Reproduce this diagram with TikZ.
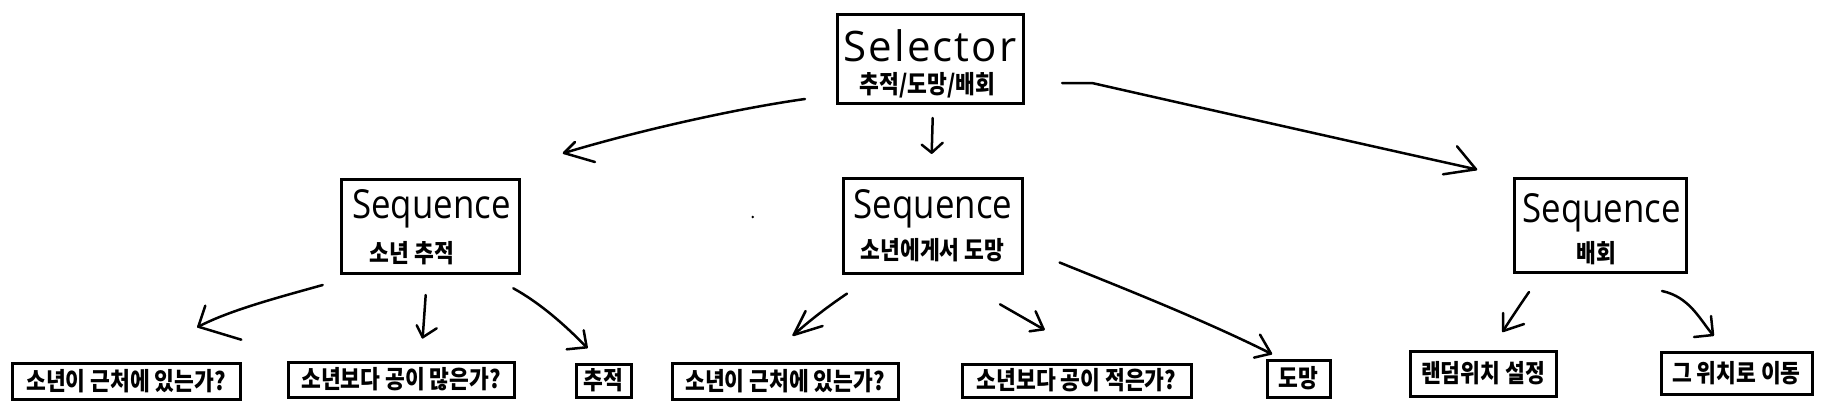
\documentclass[tikz,border=0pt]{standalone}
\usepackage{fontspec}
\newfontfamily\kr{Noto Sans CJK KR}[FakeStretch=0.86]
\newfontfamily\handQ{Open Sans}[FakeStretch=0.87]
\newfontfamily\handS{Open Sans}[LetterSpace=5]
\begin{document}
\begin{tikzpicture}[x=1pt,y=-1pt,
  box/.style={draw=black,line width=3pt,inner sep=0pt,minimum width=#1},
  ktext/.style={font=\kr\bfseries\fontsize{25}{27}\selectfont,inner sep=0pt},
  seqt/.style={font=\handQ\fontsize{40}{44}\selectfont,inner sep=0pt,anchor=base},
  selt/.style={font=\handS\fontsize{42}{46}\selectfont,inner sep=0pt,anchor=base},
  conn/.style={line width=2.5pt,line cap=round,line join=round}]
\fill[white] (0,0) rectangle (1830,408);
\useasboundingbox (0,0) rectangle (1830,408);

% top selector
\node[box=186pt,minimum height=89pt] (sel) at (930,58.5) {};
\node[selt] (selT) at (930,61) {Selector};
\node[ktext] (selK) at (927.5,85) {추적/도망/배회};

% sequences
\node[box=178pt,minimum height=94pt] (s1) at (430,226) {};
\node[seqt] (s1T) at (431.5,218) {Sequence};
\node[ktext] (s1K) at (412,253) {소년 추적};

\node[box=179pt,minimum height=95pt] (s2) at (932.5,225.5) {};
\node[seqt] (s2T) at (933,218) {Sequence};
\node[ktext] (s2K) at (932.5,250) {소년에게서 도망};

\node[box=172pt,minimum height=94pt] (s3) at (1600,225) {};
\node[seqt] (s3T) at (1601.5,222) {Sequence};
\node[ktext] (s3K) at (1596,253) {배회};

% leaves
\node[box=228pt,minimum height=36pt,ktext] (l1) at (126,381) {소년이 근처에 있는가?};
\node[box=226pt,minimum height=35pt,ktext] (l2) at (401,379.5) {소년보다 공이 많은가?};
\node[box=55pt,minimum height=33pt,ktext] (l3) at (603.5,380.5) {추적};
\node[box=226pt,minimum height=36pt,ktext] (l4) at (785,381) {소년이 근처에 있는가?};
\node[box=229pt,minimum height=33pt,ktext] (l5) at (1076.5,380.5) {소년보다 공이 적은가?};
\node[box=63pt,minimum height=37pt,ktext] (l6) at (1298.5,378.5) {도망};
\node[box=146pt,minimum height=45pt,ktext] (l7) at (1483,373.5) {랜덤위치 설정};
\node[box=151pt,minimum height=42pt,ktext] (l8) at (1736.5,373) {그 위치로 이동};

% stray dot
\fill (752.7,217) circle (1.3pt);

% connector end points
\coordinate (aS) at (805,99);     \coordinate (aT) at (564,153);
\coordinate (bS) at (932.7,118);  \coordinate (bT) at (931.7,152.7);
\coordinate (cS) at (1062,83);    \coordinate (cT) at (1476,169.3);
\coordinate (d1S) at (322.7,285); \coordinate (d1T) at (198.3,326.7);
\coordinate (d2S) at (425.7,295); \coordinate (d2T) at (422.7,337.3);
\coordinate (d3S) at (513.3,288.3); \coordinate (d3T) at (586.7,347.3);
\coordinate (e1S) at (847,293.6); \coordinate (e1T) at (793.6,335);
\coordinate (e2S) at (1000,304.3); \coordinate (e2T) at (1043.6,329.3);
\coordinate (e3S) at (1059.6,262.5); \coordinate (e3T) at (1271,353.6);
\coordinate (f1S) at (1529,292);  \coordinate (f1T) at (1503,331);
\coordinate (f2S) at (1662,291);  \coordinate (f2T) at (1713,335);

% selector arrows
\draw[conn] (aS) .. controls (740,108) and (640,130) .. (aT);
\draw[conn] (aT) ++(11,-11) -- (aT) -- ++(31,9);
\draw[conn] (bS) -- (bT);
\draw[conn] (bT) ++(-10,-8) -- (bT) -- ++(11,-10);
\draw[conn] (cS) -- (1092,83) .. controls (1220,112) and (1380,148) .. (cT);
\draw[conn] (cT) ++(-19,-23) -- (cT) -- ++(-33,5);

% sequence 1 arrows
\draw[conn] (d1S) .. controls (280,297) and (230,310) .. (d1T);
\draw[conn] (d1T) ++(7,-21) -- (d1T) -- ++(43,13);
\draw[conn] (d2S) -- (d2T);
\draw[conn] (d2T) ++(-6,-12) -- (d2T) -- ++(14,-9);
\draw[conn] (d3S) .. controls (540,303) and (565,325) .. (d3T);
\draw[conn] (d3T) ++(-3,-17) -- (d3T) -- ++(-20,2);

% sequence 2 arrows
\draw[conn] (e1S) .. controls (830,305) and (810,320) .. (e1T);
\draw[conn] (e1T) ++(12,-24) -- (e1T) -- ++(29,-9);
\draw[conn] (e2S) -- (e2T);
\draw[conn] (e2T) ++(-8,-18) -- (e2T) -- ++(-14,2);
\draw[conn] (e3S) .. controls (1110,283) and (1200,318) .. (e3T);
\draw[conn] (e3T) ++(-11,-19) -- (e3T) -- ++(-17,4);

% sequence 3 arrows
\draw[conn] (f1S) .. controls (1520,305) and (1510,320) .. (f1T);
\draw[conn] (f1T) ++(0,-18) -- (f1T) -- ++(21,-7);
\draw[conn] (f2S) .. controls (1690,297) and (1700,320) .. (f2T);
\draw[conn] (f2T) ++(-2,-19) -- (f2T) -- ++(-19,2);
\end{tikzpicture}
\end{document}
